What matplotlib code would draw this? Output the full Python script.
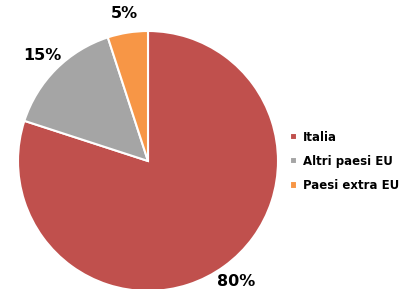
import matplotlib.pyplot as plt

# Dati del grafico
categorie = ['Italia', 'Altri paesi EU', 'Paesi extra EU']
valori = [80, 15, 5]
colori = ['#C0504D', '#A5A5A5', '#F79646']

fig = plt.figure(figsize=(4.06, 2.89), dpi=100)
ax = fig.add_axes([18 / 406, -2 / 289, 260 / 406, 260 / 289])

fette, _, etichette = ax.pie(
    valori,
    colors=colori,
    startangle=90,
    counterclock=False,
    autopct='%d%%',
    pctdistance=1.15,
    radius=1,
    wedgeprops={'edgecolor': 'white', 'linewidth': 1.5},
)
for t in etichette:
    t.set_fontsize(11.5)
    t.set_fontweight('bold')
    t.set_color('black')

ax.set_xlim(-1, 1)
ax.set_ylim(-1, 1)
ax.set_aspect('equal')
ax.axis('off')

fig.legend(
    fette, categorie,
    loc='upper left', bbox_to_anchor=(279 / 406, 1 - 120 / 289),
    frameon=False, handlelength=0.6, handleheight=0.6,
    handletextpad=0.5, labelspacing=0.95,
    prop={'size': 8.5, 'weight': 'bold'},
)

fig.savefig('out.png', dpi=100)
